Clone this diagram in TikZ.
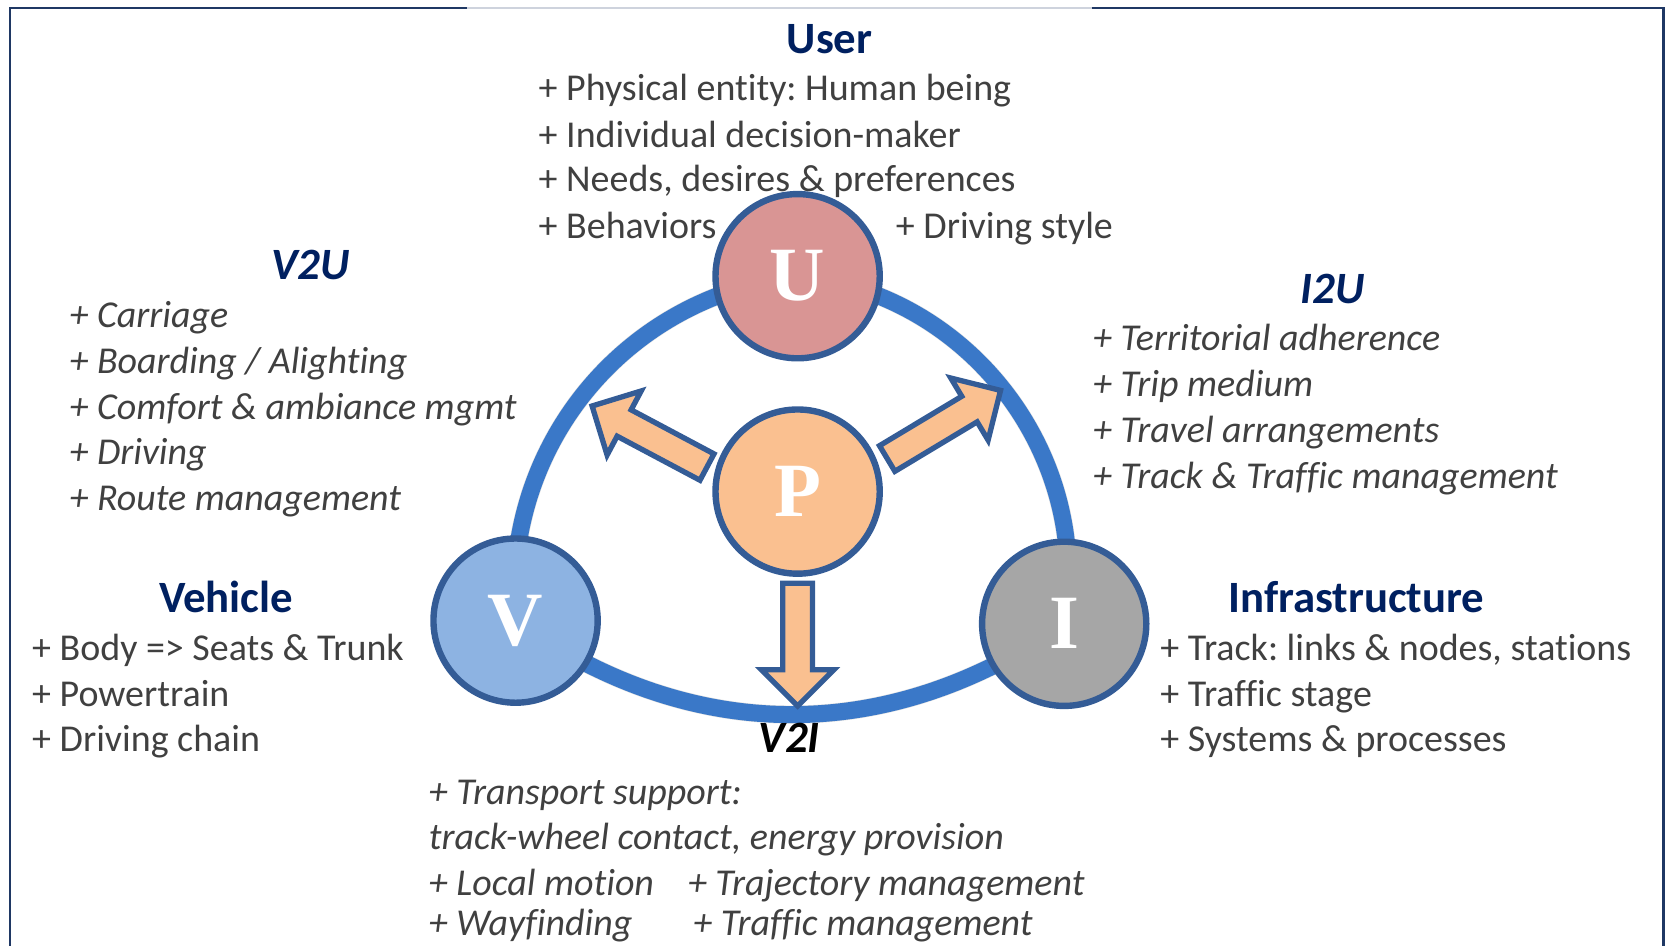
\documentclass[tikz,border=0pt]{standalone}
\usepackage{fontspec}
\setmainfont{Carlito}[Ligatures=CommonOff]
\newfontfamily\letterfont{Liberation Serif}
\usetikzlibrary{backgrounds}
\frenchspacing
\definecolor{navy}{RGB}{0,32,96}
\definecolor{txt}{RGB}{64,64,64}
\definecolor{ringblue}{RGB}{58,120,200}
\definecolor{edgeblue}{RGB}{52,92,150}
\definecolor{ufill}{RGB}{217,149,148}
\definecolor{pfill}{RGB}{250,192,144}
\definecolor{vfill}{RGB}{141,179,226}
\definecolor{ifill}{RGB}{166,166,166}
\definecolor{framec}{RGB}{31,56,100}
\newcommand\blockarrowpath[1]{(0,-14) -- (#1-34,-14) -- (#1-34,-34) -- (#1,0) -- (#1-34,34) -- (#1-34,14) -- (0,14) -- cycle}
\begin{document}
\begin{tikzpicture}[x=1pt,y=-1pt,
 body/.style={font=\fontsize{35.6}{43}\selectfont, text=txt, anchor=base west, inner sep=0pt},
 ibody/.style={body, font=\fontsize{35.6}{43}\selectfont\itshape},
 ttl/.style={font=\fontsize{42}{50}\selectfont\bfseries, text=navy, anchor=base, inner sep=0pt},
 ittl/.style={ttl, font=\fontsize{42}{50}\selectfont\bfseries\itshape},
 circ/.style={circle, draw=edgeblue, line width=6pt, minimum size=154pt, inner sep=0pt, text=white, font=\letterfont\bfseries\fontsize{72}{72}\selectfont},
 ringline/.style={draw=ringblue, line width=16pt},
 ringshadow/.style={draw=black, opacity=0.12, line width=17pt},
 barrow/.style={draw=edgeblue, fill=pfill, line width=5pt, line join=miter},
 borderline/.style={draw=framec, line width=2.5pt}]
\useasboundingbox (0,0) rectangle (1568,887);

% circles
\node[circ, fill=ufill] (U) at (748,259) {U};
\node[circ, fill=pfill] (P) at (748,461) {P};
\node[circ, fill=vfill] (V) at (483.5,582) {V};
\node[circ, fill=ifill] (I) at (998,585) {I};

\begin{scope}[on background layer]
% frame
\draw[borderline] (9.5,887) -- (9.5,7.5) -- (438,7.5);
\draw[borderline, draw=framec!22] (438,7.5) -- (1024,7.5);
\draw[borderline] (1024,7.5) -- (1560,7.5) -- (1560,887);

% ring
\begin{scope}[shift={(2,4)}]
\draw[ringshadow] (V.center) to[bend left=44] (U.center) to[bend left=47] (I.center) to[bend left=35] (V.center);
\end{scope}
\draw[ringline] (V.center) to[bend left=44] (U.center) to[bend left=47] (I.center) to[bend left=35] (V.center);

% block arrows
\begin{scope}[shift={(663,438)}, rotate=152]
\draw[barrow] \blockarrowpath{122};
\end{scope}
\begin{scope}[shift={(832,430)}, rotate=31]
\draw[barrow] \blockarrowpath{124};
\end{scope}
\begin{scope}[shift={(748,547)}, rotate=-90]
\draw[barrow] \blockarrowpath{115};
\end{scope}

% User
\node[ttl] (tU) at (778,50) {User};
\node[body] (u1) at (505,94) {+ Physical entity: Human being};
\node[body] (u2) at (505,138) {+ Individual decision-maker};
\node[body] (u3) at (505,180) {+ Needs, desires \& preferences};
\node[body] (u4) at (505,224) {+ Behaviors};
\node[body] (u5) at (840,224) {+ Driving style};

% V2U
\node[ittl] (tVU) at (291,262) {V2U};
\node[ibody] (vu1) at (65,307) {+ Carriage};
\node[ibody] (vu2) at (65,350) {+ Boarding / Alighting};
\node[ibody] (vu3) at (65,393) {+ Comfort \& ambiance mgmt};
\node[ibody] (vu4) at (65,436) {+ Driving};
\node[ibody] (vu5) at (65,479) {+ Route management};

% I2U
\node[ittl] (tIU) at (1250,285) {I2U};
\node[ibody] (iu1) at (1025,329) {+ Territorial adherence};
\node[ibody] (iu2) at (1025,372) {+ Trip medium};
\node[ibody] (iu3) at (1025,415) {+ Travel arrangements};
\node[ibody] (iu4) at (1025,458) {+ Track \& Traffic management};

% Vehicle
\node[ttl] (tV) at (212,574) {Vehicle};
\node[body] (v1) at (30,619) {+ Body => Seats \& Trunk};
\node[body] (v2) at (30,663) {+ Powertrain};
\node[body] (v3) at (30,705) {+ Driving chain};

% Infrastructure
\node[ttl] (tI) at (1272,574) {Infrastructure};
\node[body] (i1) at (1088,619) {+ Track: links \& nodes, stations};
\node[body] (i2) at (1088,663) {+ Traffic stage};
\node[body] (i3) at (1088,705) {+ Systems \& processes};

% V2I
\node[ittl, text=black] (tVI) at (740,706) {V2I};
\node[ibody] (vi1) at (402,754) {+ Transport support:};
\node[ibody] (vi2) at (402,797) {track-wheel contact, energy provision};
\node[ibody] (vi3) at (402,840) {+ Local motion};
\node[ibody] (vi4) at (645,840) {+ Trajectory management};
\node[ibody] (vi5) at (402,877) {+ Wayfinding};
\node[ibody] (vi6) at (650,877) {+ Traffic management};
\end{scope}
\end{tikzpicture}
\end{document}
